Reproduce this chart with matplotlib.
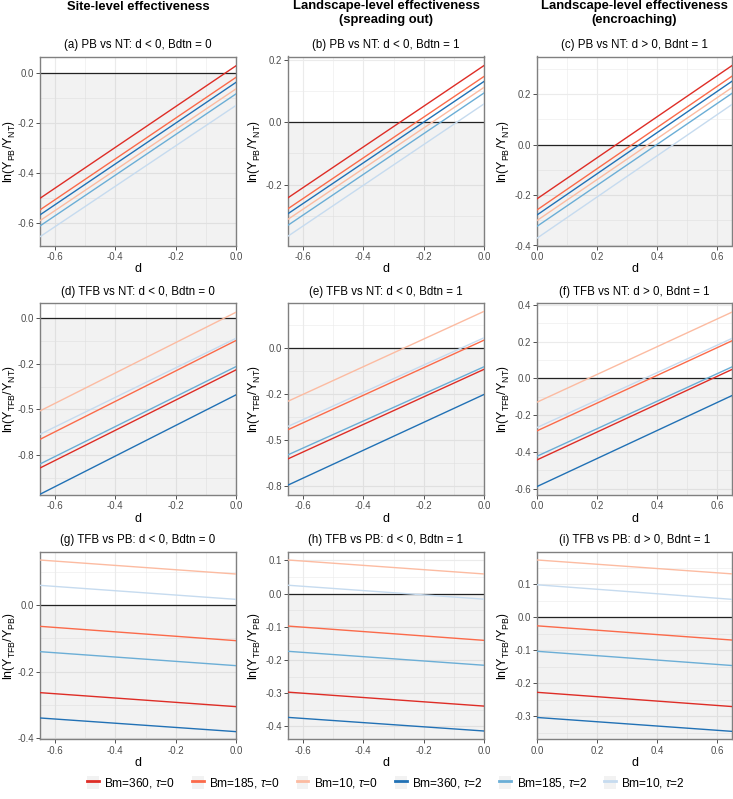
import numpy as np
import matplotlib
matplotlib.use('Agg')
import matplotlib.pyplot as plt
from matplotlib.lines import Line2D
from matplotlib.patches import Patch
from matplotlib.ticker import FormatStrFormatter, MultipleLocator

plt.rcParams['font.family'] = ['Liberation Sans', 'DejaVu Sans']
plt.rcParams['mathtext.fontset'] = 'custom'
plt.rcParams['mathtext.rm'] = 'Liberation Sans'
plt.rcParams['mathtext.it'] = 'Liberation Sans:italic'
plt.rcParams['mathtext.sf'] = 'Liberation Sans'

# series: Bm=360/185/10 with tau=0, then tau=2
series = ['Bm=360, $\\tau$=0', 'Bm=185, $\\tau$=0', 'Bm=10, $\\tau$=0',
          'Bm=360, $\\tau$=2', 'Bm=185, $\\tau$=2', 'Bm=10, $\\tau$=2']
colors = ['#DE2D26', '#FB6A4A', '#FCBBA1', '#2171B5', '#6BAED6', '#C6DBEF']

d_neg = [-0.65, 0.0]
d_pos = [0.0, 0.65]

# ln ratio at the two ends of d, one pair per series
pb_nt_site = [[-0.501, 0.027], [-0.547, -0.019], [-0.590, -0.065],
              [-0.567, -0.039], [-0.611, -0.085], [-0.654, -0.131]]
pb_nt_spread = [[-0.242, 0.182], [-0.277, 0.147], [-0.311, 0.112],
                [-0.293, 0.131], [-0.330, 0.094], [-0.365, 0.059]]
pb_nt_encroach = [[-0.215, 0.313], [-0.259, 0.271], [-0.301, 0.226],
                  [-0.279, 0.251], [-0.324, 0.203], [-0.371, 0.159]]
tfb_nt_site = [[-0.821, -0.283], [-0.664, -0.122], [-0.508, 0.033],
               [-0.965, -0.420], [-0.799, -0.265], [-0.636, -0.110]]
tfb_nt_spread = [[-0.603, -0.115], [-0.444, 0.044], [-0.289, 0.201],
                 [-0.746, -0.252], [-0.581, -0.101], [-0.426, 0.057]]
tfb_nt_encroach = [[-0.444, 0.048], [-0.286, 0.204], [-0.130, 0.360],
                   [-0.589, -0.094], [-0.424, 0.062], [-0.268, 0.217]]
tfb_pb_site = [[-0.263, -0.305], [-0.064, -0.107], [0.135, 0.093],
               [-0.339, -0.380], [-0.140, -0.182], [0.059, 0.017]]
tfb_pb_spread = [[-0.297, -0.339], [-0.098, -0.141], [0.101, 0.059],
                 [-0.373, -0.414], [-0.174, -0.216], [0.025, -0.017]]
tfb_pb_encroach = [[-0.227, -0.270], [-0.026, -0.069], [0.173, 0.131],
                   [-0.303, -0.345], [-0.103, -0.146], [0.098, 0.054]]

headers = ['Site-level effectiveness',
           'Landscape-level effectiveness\n(spreading out)',
           'Landscape-level effectiveness\n(encroaching)']

panels = [
    ('(a) PB vs NT: d < 0, Bdtn = 0', d_neg, pb_nt_site, 'PB', 'NT', (-0.689, 0.064), 0.2),
    ('(b) PB vs NT: d < 0, Bdtn = 1', d_neg, pb_nt_spread, 'PB', 'NT', (-0.395, 0.211), 0.2),
    ('(c) PB vs NT: d > 0, Bdnt = 1', d_pos, pb_nt_encroach, 'PB', 'NT', (-0.400, 0.349), 0.2),
    ('(d) TFB vs NT: d < 0, Bdtn = 0', d_neg, tfb_nt_site, 'TFB', 'NT', (-0.969, 0.082), 0.25),
    ('(e) TFB vs NT: d < 0, Bdtn = 1', d_neg, tfb_nt_spread, 'TFB', 'NT', (-0.800, 0.245), 0.25),
    ('(f) TFB vs NT: d > 0, Bdnt = 1', d_pos, tfb_nt_encroach, 'TFB', 'NT', (-0.635, 0.408), 0.2),
    ('(g) TFB vs PB: d < 0, Bdtn = 0', d_neg, tfb_pb_site, 'TFB', 'PB', (-0.403, 0.160), 0.2),
    ('(h) TFB vs PB: d < 0, Bdtn = 1', d_neg, tfb_pb_spread, 'TFB', 'PB', (-0.439, 0.126), 0.1),
    ('(i) TFB vs PB: d > 0, Bdnt = 1', d_pos, tfb_pb_encroach, 'TFB', 'PB', (-0.369, 0.198), 0.1),
]

W, H = 733, 799
fig = plt.figure(figsize=(W / 100, H / 100), dpi=100)

col_x = [(40, 236), (288, 484), (537, 732)]
row_y = [(56.5, 245.5), (303.3, 495), (551.7, 739.3)]
ylab_x = [9, 254, 503]

for k, (title, d, vals, num, den, ylim, step) in enumerate(panels):
    r, c = divmod(k, 3)
    x0, x1 = col_x[c]
    y0, y1 = row_y[r]
    ax = fig.add_axes([x0 / W, 1 - y1 / H, (x1 - x0) / W, (y1 - y0) / H])
    ax.set_xlim(d[0], d[1])
    ax.set_ylim(*ylim)
    ax.axhspan(ylim[0], 0, color='#808080', alpha=0.1, lw=0, zorder=1)
    ax.axhline(0, color='#222222', lw=0.9, zorder=2)
    for v, col in zip(vals, colors):
        ax.plot(d, v, color=col, lw=1.0, zorder=3)

    ax.xaxis.set_major_locator(MultipleLocator(0.2))
    ax.xaxis.set_minor_locator(MultipleLocator(0.1))
    ax.yaxis.set_major_locator(MultipleLocator(step))
    ax.yaxis.set_minor_locator(MultipleLocator(step / 2))
    ax.xaxis.set_major_formatter(FormatStrFormatter('%.1f'))
    ax.yaxis.set_major_formatter(FormatStrFormatter('%.1f'))
    ax.set_axisbelow(True)
    ax.grid(which='major', color='#EBEBEB', lw=0.8)
    ax.grid(which='minor', color='#EBEBEB', lw=0.4)
    ax.tick_params(which='major', length=3, width=0.6, color='#333333',
                   labelsize=6.9, labelcolor='#4D4D4D', pad=1.5)
    ax.tick_params(which='minor', length=0)
    for s in ax.spines.values():
        s.set_color('#808080')
        s.set_linewidth(1.0)

    ax.set_title(title, fontsize=8.3, pad=6)
    ax.set_xlabel('d', fontsize=9, labelpad=1)
    ax.set_ylabel(r'$\mathrm{ln}\left(\mathrm{Y}_{\mathrm{%s}}/\mathrm{Y}_{\mathrm{%s}}\right)$' % (num, den),
                  fontsize=9, ha='center', va='center')
    ax.yaxis.set_label_coords((ylab_x[c] - x0) / (x1 - x0), 0.5)

for c, text in enumerate(headers):
    xc = (col_x[c][0] + col_x[c][1]) / 2 / W
    fig.text(xc, 1 - 0.5 / H, text, ha='center', va='top', fontsize=9.4,
             fontweight='bold', linespacing=1.15)

# legend centred on the panel area, not the whole figure
handles = [(Patch(facecolor='#F2F2F2', edgecolor='none'), Line2D([], [], color=col, lw=2))
           for col in colors]
legend_xc = (col_x[0][0] + col_x[2][1]) / 2 / W
fig.legend(handles, series, loc='center', bbox_to_anchor=(legend_xc, 1 - 783 / H), ncol=6,
           frameon=False, fontsize=8.6, handlelength=1.0, handleheight=1.3,
           handletextpad=0.45, columnspacing=1.4, borderaxespad=0)

fig.savefig('out.png', dpi=100)
